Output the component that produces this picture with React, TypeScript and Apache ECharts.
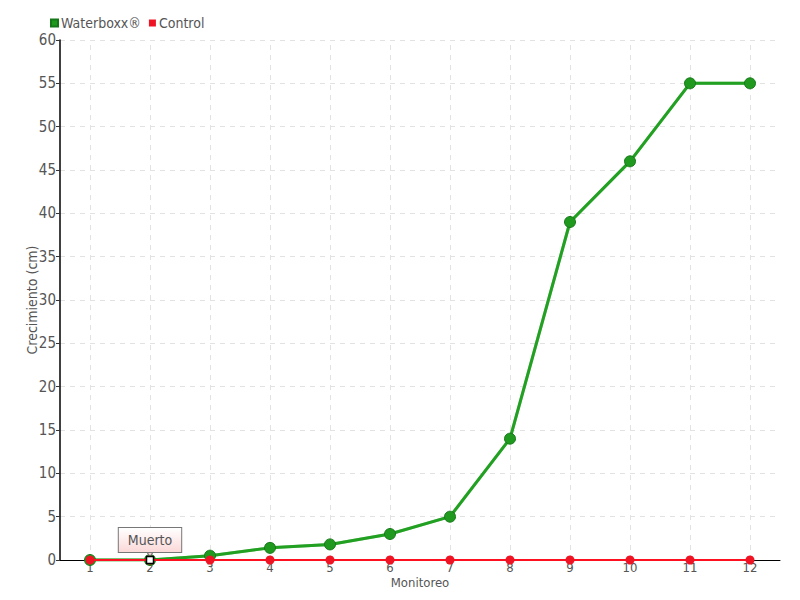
import React, { useEffect, useRef } from "react";
import * as echarts from "echarts";

const categories = ["1", "2", "3", "4", "5", "6", "7", "8", "9", "10", "11", "12"];
const waterboxx = [0, 0, 0.5, 1.4, 1.8, 3, 5, 14, 39, 46, 55, 55];
const control = [0, 0, 0, 0, 0, 0, 0, 0, 0, 0, 0, 0];
const yTicks = { min: 0, max: 60, interval: 5 };
const annotation = { category: "2", value: 0, text: "Muerto" };

const FONT = "'DejaVu Sans Condensed', 'Liberation Sans Narrow', 'DejaVu Sans', sans-serif";

export default function App() {
  const ref = useRef<HTMLDivElement>(null);
  useEffect(() => {
    if (!ref.current) return;
    const chart = echarts.init(ref.current, undefined, { renderer: "svg" });
    chart.setOption({
      animation: false,
      textStyle: { fontFamily: FONT, color: "#555" },
      legend: {
        left: 45,
        top: 11,
        itemWidth: 7,
        itemHeight: 7,
        itemGap: 8,
        icon: "rect",
        textStyle: { fontFamily: FONT, fontSize: 14, color: "#555", padding: [0, 0, 0, -2] },
        data: ["Waterboxx®", "Control"],
      },
      grid: { left: 60, right: 20, top: 40, bottom: 40, containLabel: false },
      xAxis: {
        type: "category",
        data: categories,
        boundaryGap: true,
        name: "Monitoreo",
        nameLocation: "middle",
        nameGap: 16,
        nameMoveOverlap: false,
        nameTextStyle: { fontFamily: FONT, fontSize: 13, color: "#555" },
        axisLine: { lineStyle: { color: "#000", width: 1 } },
        axisTick: { show: true, alignWithLabel: true, length: 4, lineStyle: { color: "#555" } },
        axisLabel: { fontFamily: FONT, fontSize: 13, color: "#555", margin: 1 },
        splitLine: { show: false },
      },
      yAxis: {
        type: "value",
        min: yTicks.min,
        max: yTicks.max,
        interval: yTicks.interval,
        name: "Crecimiento (cm)",
        nameLocation: "middle",
        nameGap: 21,
        nameMoveOverlap: false,
        nameTextStyle: { fontFamily: FONT, fontSize: 14, color: "#555" },
        axisLine: { show: true, lineStyle: { color: "#000", width: 1.5 } },
        axisTick: { show: true, length: 4, lineStyle: { color: "#333" } },
        axisLabel: { fontFamily: FONT, fontSize: 15, color: "#555", margin: 4 },
        splitLine: { show: true, lineStyle: { color: "#e2e2e2", type: [5, 5], width: 1 } },
      },
      series: [
        {
          name: "Waterboxx®",
          type: "line",
          data: waterboxx,
          symbol: "circle",
          symbolSize: 11,
          itemStyle: { color: "#1f9a1f", borderColor: "#17781a", borderWidth: 1 },
          lineStyle: { color: "#20a020", width: 3, shadowColor: "rgba(80,180,80,0.6)", shadowBlur: 1 },
          z: 2,
          markLine: {
            silent: true,
            symbol: "none",
            label: { show: false },
            lineStyle: { color: "#e2e2e2", type: [5, 5], width: 1 },
            data: categories.map((c) => ({ xAxis: c })),
            z: 0,
          },
        },
        {
          name: "Control",
          type: "line",
          data: control,
          symbol: "circle",
          symbolSize: 9,
          itemStyle: { color: "#ee1424" },
          lineStyle: { color: "#ff1020", width: 2 },
          z: 3,
          markPoint: {
            silent: true,
            data: [
              {
                coord: [annotation.category, annotation.value],
                symbol: "path://M0,0 L10,0 L5,7 Z",
                symbolSize: [10, 7],
                symbolOffset: [0, -7],
                itemStyle: { color: "#fbd8d8", borderColor: "#777", borderWidth: 1 },
                label: {
                  show: true,
                  formatter: annotation.text,
                  position: "top",
                  distance: 0,
                  offset: [0, 3],
                  fontFamily: FONT,
                  fontSize: 14,
                  color: "#555",
                  padding: [5, 9, 5, 9],
                  borderColor: "#777",
                  borderWidth: 1,
                  backgroundColor: {
                    type: "linear",
                    x: 0, y: 0, x2: 0, y2: 1,
                    colorStops: [
                      { offset: 0, color: "#ffffff" },
                      { offset: 1, color: "#fbd8d8" },
                    ],
                  },
                },
              },
              {
                coord: [annotation.category, annotation.value],
                symbol: "rect",
                symbolSize: 7,
                itemStyle: { color: "#fff", borderColor: "#000", borderWidth: 1.5 },
                label: { show: false },
              },
            ],
          },
        },
      ],
    });
    return () => chart.dispose();
  }, []);
  return <div ref={ref} style={{ width: 800, height: 600, position: "absolute", left: 0, top: 0 }} />;
}
